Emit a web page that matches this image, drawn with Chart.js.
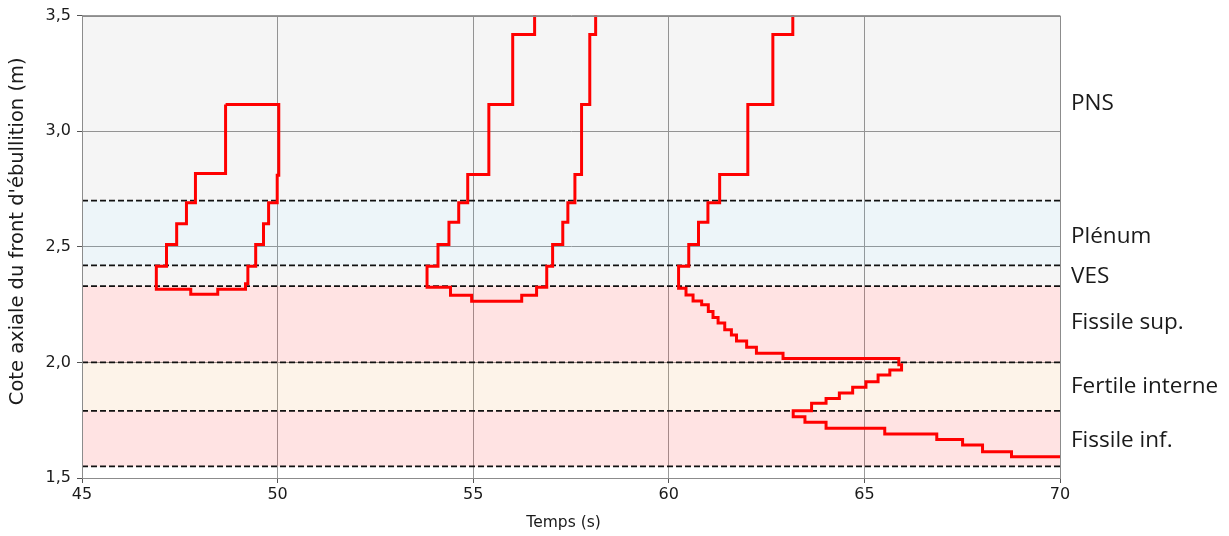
<!DOCTYPE html>
<html>
<head>
<meta charset="utf-8">
<script src="https://cdn.jsdelivr.net/npm/chart.js@4/dist/chart.umd.min.js"></script>
<style>
  html, body { margin: 0; padding: 0; background: #ffffff; }
  #wrap { width: 1229px; height: 536px; position: relative; }
</style>
</head>
<body>
<div id="wrap"><canvas id="c" width="1229" height="536"></canvas></div>
<script>
// ---- Data (time in s, axial height in m) ----
const xTicks = [45, 50, 55, 60, 65, 70];
const yTicks = [1.5, 2.0, 2.5, 3.0, 3.5];

// Zone boundaries (dashed lines)
const zoneBounds = [1.55, 1.79, 2.00, 2.33, 2.42, 2.70];
// Zones: lower, upper, name, label height, fill colour
const zoneLower = [1.55, 1.79, 2.00, 2.33, 2.42, 2.70];
const zoneUpper = [1.79, 2.00, 2.33, 2.42, 2.70, 3.50];
const zoneNames = ['Fissile inf.', 'Fertile interne', 'Fissile sup.', 'VES', 'Plénum', 'PNS'];
const zoneLabelZ = [1.660, 1.897, 2.174, 2.373, 2.545, 3.120];
const zoneColors = ['rgba(255,0,0,0.11)', 'rgba(240,140,40,0.10)', 'rgba(255,0,0,0.11)',
                    'rgba(0,0,0,0.04)', 'rgba(60,140,190,0.09)', 'rgba(0,0,0,0.04)'];

// Boiling front contours (step corners: vertical move, then horizontal move)
const front1T = [48.67, 47.90, 47.67, 47.42, 47.16, 46.90, 47.78, 48.47, 49.18, 49.24, 49.44, 49.64, 49.77, 49.99, 50.03, 48.67];
const front1Z = [3.116, 2.817, 2.690, 2.600, 2.510, 2.416, 2.316, 2.295, 2.316, 2.340, 2.416, 2.510, 2.600, 2.690, 2.810, 3.116];

const front2T = [56.57, 56.01, 55.40, 54.86, 54.63, 54.38, 54.10, 53.82, 54.42, 54.96, 56.24, 56.62, 56.88, 57.03, 57.29, 57.42, 57.60, 57.77, 57.98, 58.13, 58.13];
const front2Z = [3.500, 3.418, 3.116, 2.813, 2.690, 2.606, 2.510, 2.416, 2.325, 2.290, 2.265, 2.290, 2.325, 2.416, 2.510, 2.606, 2.690, 2.813, 3.116, 3.418, 3.500];

const front3T = [63.17, 62.66, 62.02, 61.30, 61.00, 60.76, 60.51, 60.25, 60.44, 60.62, 60.84, 61.01, 61.13, 61.26, 61.43, 61.60, 61.73, 61.99, 62.24, 62.92, 65.88, 65.95, 65.65, 65.35, 65.04, 64.70, 64.36, 64.02, 63.65, 63.18, 63.48, 64.02, 65.52, 66.85, 67.51, 68.02, 68.76, 70.00];
const front3Z = [3.500, 3.418, 3.116, 2.813, 2.690, 2.606, 2.510, 2.416, 2.321, 2.292, 2.266, 2.249, 2.220, 2.194, 2.170, 2.141, 2.119, 2.093, 2.065, 2.040, 2.017, 1.990, 1.967, 1.945, 1.916, 1.892, 1.868, 1.844, 1.823, 1.791, 1.765, 1.741, 1.715, 1.690, 1.667, 1.643, 1.614, 1.592];

// ---- Build datasets ----
const xMin = xTicks[0], xMax = xTicks[xTicks.length - 1];
const datasets = [];

zoneLower.forEach((lo, i) => {
  datasets.push({
    data: [{x: xMin, y: zoneUpper[i]}, {x: xMax, y: zoneUpper[i]}],
    showLine: true, borderWidth: 0, borderColor: 'rgba(0,0,0,0)',
    backgroundColor: zoneColors[i], fill: {value: lo},
    pointRadius: 0, order: 20
  });
});

zoneBounds.forEach(b => {
  datasets.push({
    data: [{x: xMin, y: b}, {x: xMax, y: b}],
    showLine: true, borderWidth: 1.8, borderColor: '#111111',
    borderDash: [6, 3], pointRadius: 0, fill: false, order: 10
  });
});

[[front1T, front1Z], [front2T, front2Z], [front3T, front3Z]].forEach(([T, Z]) => {
  datasets.push({
    data: T.map((t, i) => ({x: t, y: Z[i]})),
    showLine: true, stepped: 'after', borderWidth: 3, borderColor: '#ff0000',
    pointRadius: 0, fill: false, order: 1, borderJoinStyle: 'miter'
  });
});

// ---- Plugins: zone labels and frame ----
const zoneLabels = {
  id: 'zoneLabels',
  afterDraw(chart) {
    const {ctx, chartArea, scales} = chart;
    ctx.save();
    ctx.font = '22.5px "Open Sans", sans-serif';
    ctx.fillStyle = '#1a1a1a';
    ctx.textAlign = 'left';
    ctx.textBaseline = 'middle';
    zoneNames.forEach((n, i) => {
      const y = scales.y.getPixelForValue(zoneLabelZ[i]);
      ctx.fillText(n, chartArea.right + 11, y);
    });
    ctx.restore();
  }
};
const frame = {
  id: 'frame',
  afterDatasetsDraw(chart) {
    const {ctx, chartArea: a} = chart;
    ctx.save();
    ctx.strokeStyle = '#8c8c8c';
    ctx.lineWidth = 1;
    ctx.strokeRect(Math.round(a.left) + 0.5, Math.round(a.top) + 0.5,
                   Math.round(a.right - a.left), Math.round(a.bottom - a.top));
    ctx.restore();
  }
};

const tickFont = {family: '"DejaVu Sans", sans-serif', size: 16};
new Chart(document.getElementById('c'), {
  type: 'scatter',
  data: {datasets},
  options: {
    responsive: false,
    animation: false,
    layout: {padding: {top: 15, right: 169, left: 0, bottom: 0}},
    plugins: {legend: {display: false}, tooltip: {enabled: false}},
    scales: {
      x: {
        type: 'linear', min: xMin, max: xMax,
        afterBuildTicks: s => { s.ticks = xTicks.map(v => ({value: v})); },
        afterFit: s => { s.height = 58; },
        ticks: {font: tickFont, color: '#1a1a1a', padding: 2, maxRotation: 0},
        grid: {color: '#9a9a9a', lineWidth: 1, tickLength: 5, tickColor: '#555'},
        border: {display: true, color: '#8c8c8c'},
        title: {display: true, text: 'Temps (s)   ', font: {family: '"DejaVu Sans", sans-serif', size: 15.5}, color: '#1a1a1a', padding: {top: 4, bottom: 4}}
      },
      y: {
        type: 'linear', min: yTicks[0], max: yTicks[yTicks.length - 1],
        afterBuildTicks: s => { s.ticks = yTicks.map(v => ({value: v})); },
        afterFit: s => { s.width = 82; },
        ticks: {font: tickFont, color: '#1a1a1a', padding: 6,
                callback: v => v.toFixed(1).replace('.', ',')},
        grid: {color: '#9a9a9a', lineWidth: 1, tickLength: 5, tickColor: '#555'},
        border: {display: true, color: '#8c8c8c'},
        title: {display: true, text: "     Cote axiale du front d'ébullition (m)", font: {family: '"DejaVu Sans", sans-serif', size: 19.5}, color: '#1a1a1a', padding: {top: 6, bottom: 4}}
      }
    }
  },
  plugins: [zoneLabels, frame]
});
</script>
</body>
</html>
